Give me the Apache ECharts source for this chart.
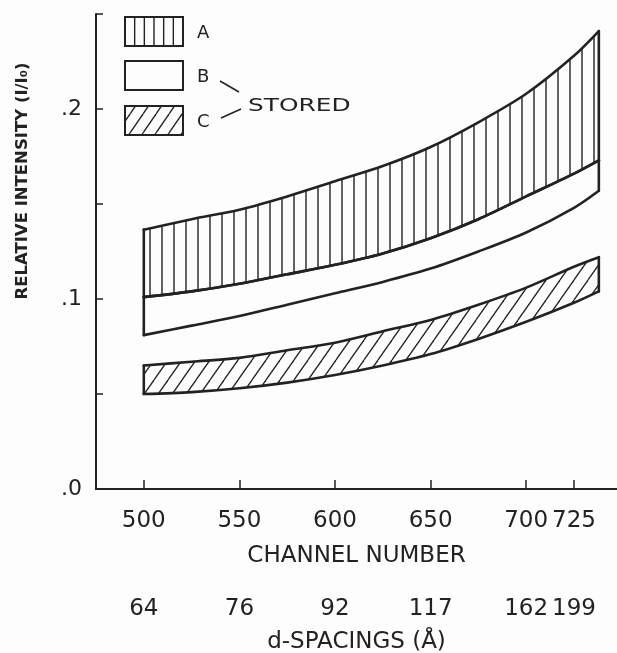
<!DOCTYPE html>
<html>
<head>
<meta charset="utf-8">
<script src="https://cdn.jsdelivr.net/npm/echarts@6/dist/echarts.min.js"></script>
<style>html,body{margin:0;padding:0;background:#fdfdfd;}#c{width:617px;height:653px;}</style>
</head>
<body>
<div id="c"></div>
<script>
// ---- data ----
const channels   = [500, 525, 550, 575, 600, 625, 650, 675, 700, 725, 738];
const bandAUpper = [0.1365, 0.142, 0.147, 0.154, 0.162, 0.170, 0.180, 0.193, 0.208, 0.228, 0.241];
const bandALower = [0.101, 0.104, 0.108, 0.113, 0.118, 0.124, 0.132, 0.142, 0.154, 0.166, 0.173];
const bandBUpper = bandALower;
const bandBLower = [0.081, 0.086, 0.091, 0.097, 0.103, 0.109, 0.116, 0.125, 0.135, 0.148, 0.157];
const bandCUpper = [0.065, 0.067, 0.069, 0.073, 0.077, 0.083, 0.089, 0.097, 0.106, 0.117, 0.122];
const bandCLower = [0.050, 0.051, 0.053, 0.056, 0.060, 0.065, 0.071, 0.079, 0.088, 0.098, 0.104];
const channelTicks   = [500, 550, 600, 650, 700, 725];
const dSpacingLabels = ['64', '76', '92', '117', '162', '199'];
const yTickValues    = [0.05, 0.1, 0.15, 0.2, 0.25];
const yLabelValues   = [0, 0.1, 0.2];
const legendNames    = ['A', 'B', 'C'];

const INK = '#222';
const FONT = 'DejaVu Sans';

function makeVertical(spacing) {
  const c = document.createElement('canvas');
  c.width = spacing; c.height = 4;
  const g = c.getContext('2d');
  g.fillStyle = INK;
  g.fillRect(spacing / 2 - 0.7, 0, 1.4, 4);
  return c;
}
function makeDiagonal(s, h) {
  const c = document.createElement('canvas');
  c.width = s; c.height = h;
  const g = c.getContext('2d');
  g.strokeStyle = INK; g.lineWidth = 1.3;
  for (const off of [-s, 0, s]) {
    g.beginPath(); g.moveTo(off, h); g.lineTo(off + s, 0); g.stroke();
  }
  return c;
}
const vertPattern = { image: makeVertical(12), repeat: 'repeat' };
const diagPattern = { image: makeDiagonal(14, 20), repeat: 'repeat' };

const bands = [
  { upper: bandAUpper, lower: bandALower, fill: vertPattern },
  { upper: bandBUpper, lower: bandBLower, fill: null },
  { upper: bandCUpper, lower: bandCLower, fill: diagPattern }
];

const chart = echarts.init(document.getElementById('c'), null, { renderer: 'canvas' });

const legendChildren = [];
const boxY = [17, 61, 106];
boxY.forEach((y, i) => {
  legendChildren.push({
    type: 'rect', shape: { x: 125, y: y, width: 58, height: 29 },
    style: { fill: i === 2 ? { image: makeDiagonal(13, 19), repeat: 'repeat' } : '#fdfdfd', stroke: INK, lineWidth: 2 }
  });
  if (i === 0) {
    for (let k = 1; k <= 5; k++) {
      const x = 125 + k * 58 / 6;
      legendChildren.push({ type: 'line', shape: { x1: x, y1: y, x2: x, y2: y + 29 }, style: { stroke: INK, lineWidth: 1.4 } });
    }
  }
  legendChildren.push({
    type: 'text', x: 197, y: y + 16,
    style: { text: legendNames[i], fill: INK, font: '18px "' + FONT + '"', align: 'left', verticalAlign: 'middle' }
  });
});
legendChildren.push({ type: 'line', shape: { x1: 220, y1: 81, x2: 239, y2: 92 }, style: { stroke: INK, lineWidth: 1.5 } });
legendChildren.push({ type: 'line', shape: { x1: 221, y1: 118, x2: 241, y2: 109 }, style: { stroke: INK, lineWidth: 1.5 } });
legendChildren.push({
  type: 'text', x: 248, y: 106, scaleX: 1.38,
  style: { text: 'STORED', fill: INK, font: '18px "' + FONT + '"', align: 'left', verticalAlign: 'middle' }
});
legendChildren.push({
  type: 'text', x: 23, y: 181, rotation: Math.PI / 2,
  style: { text: 'RELATIVE INTENSITY (I/I₀)', fill: INK, font: 'bold 16.5px "' + FONT + '"', align: 'center', verticalAlign: 'middle' }
});

const option = {
  animation: false,
  backgroundColor: '#fdfdfd',
  grid: { left: 96, right: 0, top: 14, bottom: 164, outerBoundsMode: 'none', containLabel: false },
  xAxis: [
    {
      type: 'value', min: 475, max: 747.5, position: 'bottom',
      name: 'CHANNEL NUMBER', nameLocation: 'middle', nameGap: 56,
      nameTextStyle: { fontFamily: FONT, fontSize: 23, color: INK },
      axisLine: { show: true, lineStyle: { color: INK, width: 2 } },
      axisTick: { show: true, inside: true, length: 9, lineStyle: { color: INK, width: 1.5 }, customValues: channelTicks },
      axisLabel: { show: true, margin: 21, fontFamily: FONT, fontSize: 23, color: INK, customValues: channelTicks },
      splitLine: { show: false }
    },
    {
      type: 'value', min: 475, max: 747.5, position: 'bottom', offset: 109,
      name: 'd-SPACINGS (Å)', nameLocation: 'middle', nameGap: 33,
      nameTextStyle: { fontFamily: FONT, fontSize: 23, color: INK },
      axisLine: { show: false },
      axisTick: { show: false },
      axisLabel: {
        show: true, margin: 0, fontFamily: FONT, fontSize: 23, color: INK, customValues: channelTicks,
        formatter: v => dSpacingLabels[channelTicks.indexOf(v)] || ''
      },
      splitLine: { show: false }
    }
  ],
  yAxis: {
    type: 'value', min: 0, max: 0.25,
    axisLine: { show: true, lineStyle: { color: INK, width: 2 } },
    axisTick: { show: true, inside: true, length: 7, lineStyle: { color: INK, width: 1.5 }, customValues: yTickValues },
    axisLabel: { show: true, margin: 14, fontFamily: FONT, fontSize: 22, color: INK, customValues: yLabelValues,
      formatter: v => '.' + Math.round(v * 10) },
    splitLine: { show: false }
  },
  graphic: legendChildren,
  series: [{
    type: 'custom',
    coordinateSystem: 'cartesian2d',
    xAxisIndex: 0,
    clip: false,
    data: bands.map(b => [channels[0], b.upper[0]]),
    renderItem: function (params, api) {
      const b = bands[params.dataIndex];
      const up = channels.map((c, i) => api.coord([c, b.upper[i]]));
      const lo = channels.map((c, i) => api.coord([c, b.lower[i]]));
      const children = [];
      if (b.fill) {
        children.push({ type: 'polygon', shape: { points: up.concat(lo.slice().reverse()) }, style: { fill: b.fill, stroke: null } });
      }
      const ls = { stroke: INK, lineWidth: 2.6, fill: null, lineJoin: 'round', lineCap: 'round' };
      children.push({ type: 'polyline', shape: { points: up, smooth: 0.3 }, style: ls });
      children.push({ type: 'polyline', shape: { points: lo, smooth: 0.3 }, style: ls });
      children.push({ type: 'line', shape: { x1: up[0][0], y1: up[0][1], x2: lo[0][0], y2: lo[0][1] }, style: ls });
      const n = up.length - 1;
      children.push({ type: 'line', shape: { x1: up[n][0], y1: up[n][1], x2: lo[n][0], y2: lo[n][1] }, style: ls });
      return { type: 'group', children: children };
    }
  }]
};
chart.setOption(option);
</script>
</body>
</html>
